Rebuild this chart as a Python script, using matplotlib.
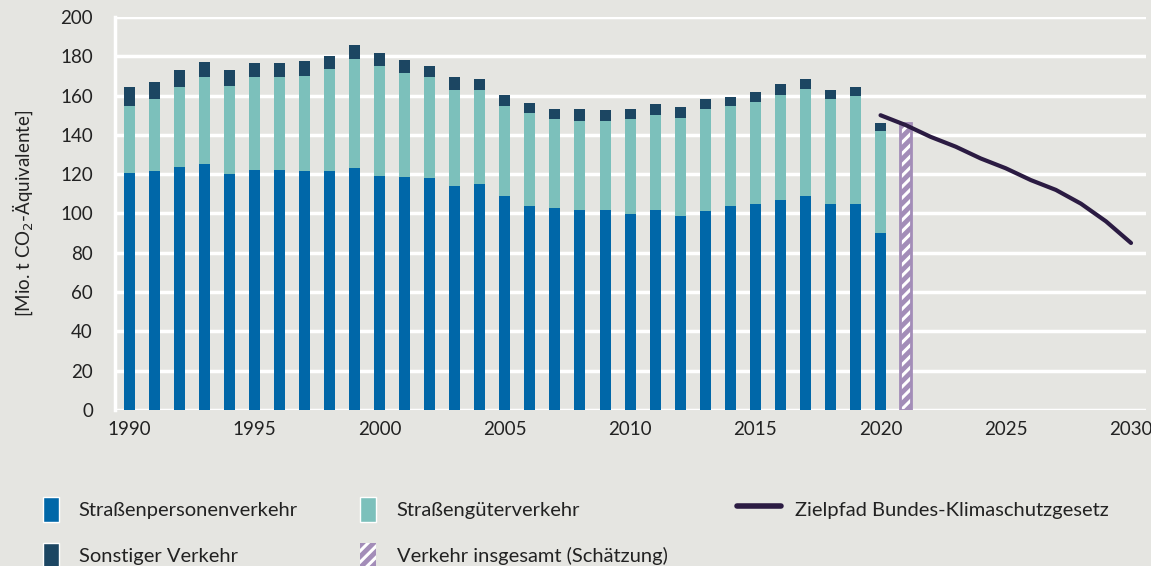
import numpy as np
import matplotlib.pyplot as plt
from matplotlib.patches import Patch
from matplotlib.lines import Line2D

plt.rcParams['font.family'] = ['Lato', 'DejaVu Sans']
plt.rcParams['hatch.linewidth'] = 2.2

years = list(range(1990, 2021))
pkw = [120.8, 121.6, 123.8, 125.2, 120.1, 122.1, 122.1, 121.6, 121.6, 123.2,
       119.3, 118.6, 117.9, 114.2, 115.0, 109.1, 104.0, 102.6, 101.8, 101.8,
       99.6, 101.8, 98.9, 101.1, 104.0, 104.8, 106.9, 109.1, 104.8, 104.8, 90.1]
gueter = [33.9, 36.7, 40.4, 44.1, 44.8, 47.2, 47.2, 48.4, 52.1, 55.6,
          55.9, 52.9, 51.4, 48.5, 47.7, 45.6, 47.0, 45.5, 45.4, 45.4,
          48.5, 48.5, 49.9, 52.1, 50.7, 52.1, 53.6, 54.3, 53.5, 55.0, 52.0]
sonstige = [9.5, 8.8, 8.8, 8.0, 8.1, 7.5, 7.5, 7.4, 6.6, 6.8,
            6.7, 6.6, 5.9, 6.6, 5.9, 5.8, 5.1, 5.1, 6.0, 5.3,
            5.1, 5.3, 5.2, 5.1, 4.4, 5.1, 5.2, 4.9, 4.4, 4.4, 3.8]

schaetzung_year = 2021
schaetzung = 146

ziel_years = list(range(2020, 2031))
ziel = [150, 145, 139, 134, 128, 123, 117, 112, 105, 96, 85]

c_pkw = '#0067a8'
c_gue = '#7cc0bb'
c_son = '#1c4662'
c_ziel = '#2b1b42'
c_hatch = '#a38db8'
bg = '#e5e5e1'

fig = plt.figure(figsize=(11.51, 5.66), dpi=100, facecolor=bg)
ax = fig.add_axes([0.1, 0.2756, 0.8957, 0.6944], facecolor=bg)

w = 0.44
ax.bar(years, pkw, w, color=c_pkw, zorder=3)
ax.bar(years, gueter, w, bottom=pkw, color=c_gue, zorder=3)
bot2 = np.array(pkw) + np.array(gueter)
ax.bar(years, sonstige, w, bottom=bot2, color=c_son, zorder=3)

ax.bar(schaetzung_year, schaetzung, w, color=c_hatch, edgecolor='white',
       hatch='///', linewidth=0, zorder=3)
ax.bar(schaetzung_year, schaetzung, w, color='none', edgecolor=c_hatch,
       linewidth=2, zorder=3)

ax.plot(ziel_years, ziel, color=c_ziel, lw=3, zorder=4, solid_capstyle='round')

ax.set_xlim(1989.44, 2030.6)
ax.set_ylim(0, 200)
ax.set_yticks(range(0, 201, 20))
ax.set_xticks(range(1990, 2031, 5))
ax.grid(axis='y', color='white', lw=2.5, zorder=1)
for s in ['top', 'right', 'bottom']:
    ax.spines[s].set_visible(False)
ax.spines['left'].set_color('white')
ax.spines['left'].set_linewidth(2.5)
ax.tick_params(length=0, labelsize=13.5, colors='#222222', pad=8)
ax.tick_params(axis='y', pad=16)
ax.set_ylabel('[Mio. t CO$_2$-Äquivalente]', fontsize=13.5, color='#222222', labelpad=18)

kw = dict(frameon=False, fontsize=14.5, handlelength=0.8, handleheight=1.6,
          labelspacing=1.0, handletextpad=1.0, borderaxespad=0)
leg1 = fig.legend([Patch(facecolor=c_pkw, edgecolor='white'), Patch(facecolor=c_son, edgecolor='white')],
                  ['Straßenpersonenverkehr', 'Sonstiger Verkehr'],
                  loc='upper left', bbox_to_anchor=(0.03, 0.137), **kw)
leg2 = fig.legend([Patch(facecolor=c_gue, edgecolor='white'),
                   Patch(facecolor=c_hatch, edgecolor='white', hatch='///', linewidth=0)],
                  ['Straßengüterverkehr', 'Verkehr insgesamt (Schätzung)'],
                  loc='upper left', bbox_to_anchor=(0.306, 0.137), **kw)
kw3 = dict(kw)
kw3['handlelength'] = 2.2
kw3['handletextpad'] = 0.7
leg3 = fig.legend([Line2D([0], [0], color=c_ziel, lw=4, solid_capstyle='round')],
                  ['Zielpfad Bundes-Klimaschutzgesetz'],
                  loc='upper left', bbox_to_anchor=(0.633, 0.137), **kw3)
for leg in (leg1, leg2, leg3):
    for t in leg.get_texts():
        t.set_color('#222222')

fig.savefig('out.png', dpi=100, facecolor=bg)
